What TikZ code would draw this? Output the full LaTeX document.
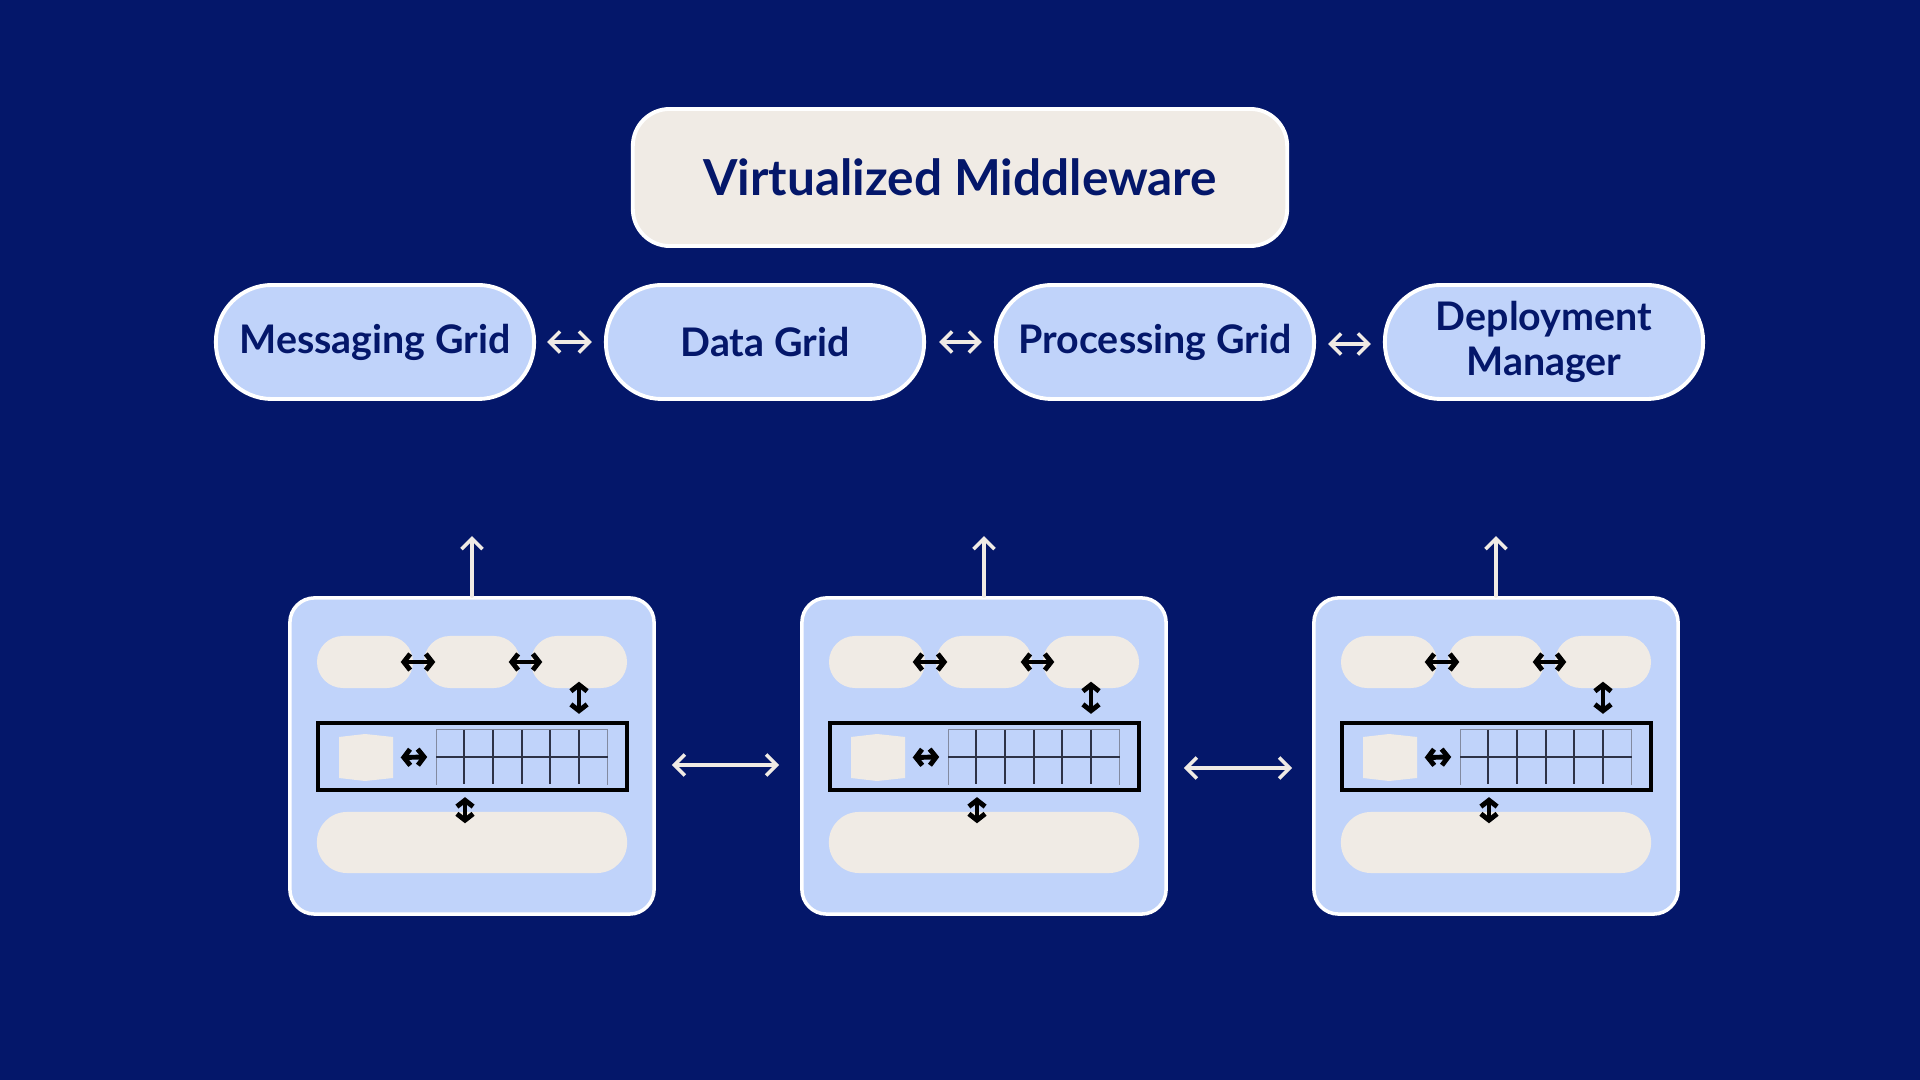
\documentclass[tikz,border=0pt]{standalone}
\usepackage{fontspec}
\setmainfont{Lato}
\usetikzlibrary{arrows.meta,positioning}
\definecolor{navy}{RGB}{4,23,106}
\definecolor{peri}{RGB}{192,211,250}
\definecolor{beige}{RGB}{240,235,229}
\definecolor{gridgray}{RGB}{130,138,160}
\definecolor{griddark}{RGB}{45,50,70}
\tikzset{
  titlebox/.style={draw=white,line width=1.1pt,fill=beige,rounded corners=10.5pt,minimum width=6.54cm,minimum height=1.37cm,text=navy,font=\fontsize{14.1}{17}\selectfont\bfseries},
  gridpill/.style={draw=white,line width=1.1pt,fill=peri,rounded corners=0.56cm,minimum width=3.18cm,minimum height=1.14cm,inner sep=1pt,text=navy,align=center,font=\fontsize{11.2}{12.6}\selectfont\bfseries},
  nodebox/.style={draw=white,line width=1pt,fill=peri,rounded corners=7pt,minimum width=3.64cm,minimum height=3.16cm},
  smallpill/.style={fill=beige,rounded corners=0.26cm,minimum width=0.96cm,minimum height=0.52cm,inner sep=0pt},
  longpill/.style={fill=beige,rounded corners=0.3cm,minimum width=3.1cm,minimum height=0.61cm,inner sep=0pt},
  slot/.style={draw=black,line width=1.2pt,minimum width=3.09cm,minimum height=0.67cm,inner sep=0pt},
  cellarea/.style={minimum width=1.7cm,minimum height=0.54cm,inner sep=0pt},
  blockarea/.style={minimum width=0.54cm,minimum height=0.44cm,inner sep=0pt},
  warrow/.style={draw=beige,line width=1pt,line cap=round,{Straight Barb[length=3pt,width=6pt]}-{Straight Barb[length=3pt,width=6pt]}},
  wup/.style={draw=beige,line width=1pt,line cap=round,-{Straight Barb[length=3pt,width=6pt]}},
  barrow/.style={draw=black,line width=1.4pt,line cap=round,{Straight Barb[length=1.8pt,width=4.6pt]}-{Straight Barb[length=1.8pt,width=4.6pt]}}
}
\begin{document}
\begin{tikzpicture}[x=0.01cm,y=-0.01cm]
\fill[navy] (0,0) rectangle (1920,1080);
\useasboundingbox (0,0) rectangle (1920,1080);

\node[titlebox] (title) at (960,177.5) {Virtualized Middleware};

\node[gridpill] (msg) at (375,342) {Messaging Grid};
\node[gridpill] (data) at (765,342) {Data Grid};
\node[gridpill] (proc) at (1155,342) {Processing Grid};
\node[gridpill] (dep) at (1544,342) {Deployment\\Manager};

\draw[warrow,shorten <=0.11cm,shorten >=0.12cm] (msg.east) -- (data.west);
\draw[warrow,shorten <=0.13cm,shorten >=0.12cm] (data.east) -- (proc.west);
\draw[warrow,shorten <=0.12cm,shorten >=0.12cm] ([yshift=-0.02cm]proc.east) -- ([yshift=-0.02cm]dep.west);

\foreach \i/\dx in {1/0,2/512,3/1024}{
  \node[nodebox] (b\i) at (472+\dx,756) {};
  \coordinate[above=0.6cm of b\i.north] (u\i);
  \draw[wup] (b\i.north) -- (u\i);

  \node[smallpill] (s\i a) at (365+\dx,662) {};
  \node[smallpill] (s\i b) at (472+\dx,662) {};
  \node[smallpill] (s\i c) at (579+\dx,662) {};
  \node[longpill] (lp\i) at (472+\dx,842.5) {};
  \node[slot] (r\i) at (472.5+\dx,756.5) {};
  \node[blockarea] (q\i) at (366+\dx,757.5) {};
  \fill[beige] (339+\dx,737) -- (365+\dx,734) -- (393+\dx,737) -- (393+\dx,778) -- (365+\dx,781) -- (339+\dx,778) -- cycle;
  \node[cellarea] (g\i) at (522+\dx,757) {};
  \draw[gridgray,line width=0.4pt] (g\i.south west) -- (g\i.north west) -- (g\i.north east) -- (g\i.south east);
  \foreach \cx in {464,493,522,550,579}{
    \draw[griddark,line width=0.7pt] (\cx+\dx,730) -- (\cx+\dx,784);
  }
  \draw[griddark,line width=0.7pt] (g\i.west) -- (g\i.east);

  \coordinate (t\i) at ([yshift=0.07cm]s\i c.south);
  \coordinate (tb\i) at (t\i |- r\i.north);
  \coordinate (d\i) at ([xshift=-0.075cm,yshift=-0.05cm]r\i.south);
  \coordinate (db\i) at (d\i |- lp\i.north);

  \draw[barrow] ([xshift=-0.13cm]s\i a.east) -- ([xshift=0.12cm]s\i b.west);
  \draw[barrow] ([xshift=-0.12cm]s\i b.east) -- ([xshift=0.12cm]s\i c.west);
  \draw[barrow] (t\i) -- ([yshift=0.07cm]tb\i);
  \draw[barrow] ([xshift=0.07cm]q\i.east) -- ([xshift=-0.09cm]g\i.west);
  \draw[barrow] (d\i) -- ([yshift=-0.12cm]db\i);
}
\draw[warrow,shorten <=0.16cm,shorten >=0.21cm] ([yshift=-0.09cm]b1.east) -- ([yshift=-0.09cm]b2.west);
\draw[warrow,shorten <=0.16cm,shorten >=0.2cm] ([yshift=-0.12cm]b2.east) -- ([yshift=-0.12cm]b3.west);
\end{tikzpicture}
\end{document}
